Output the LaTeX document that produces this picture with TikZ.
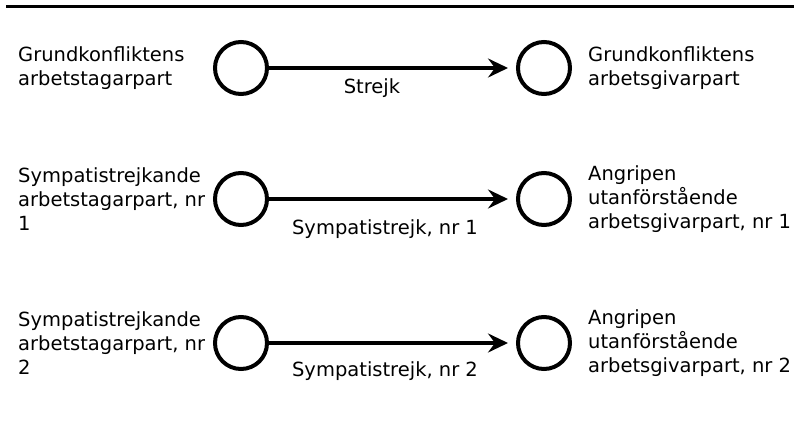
\documentclass[tikz,border=0pt]{standalone}
\usepackage{fontspec}
\setmainfont{DejaVu Sans}
\usetikzlibrary{arrows.meta,positioning}

\begin{document}
\begin{tikzpicture}[x=1pt,y=1pt,>={Stealth[length=20pt,width=19pt,inset=7pt]},
  party/.style={circle,draw=black,line width=4pt,minimum size=52pt,inner sep=0pt},
  partytext/.style={anchor=west,align=left,inner sep=0pt},
  strikelabel/.style={anchor=base,inner sep=0pt},
  every node/.style={font=\fontsize{19.5}{24}\selectfont}]
  \useasboundingbox (0,0) rectangle (798,-425);
  \coordinate (ruleL) at (6,-6.5);
  \coordinate (ruleR) at (794,-6.5);
  \draw[line width=3pt] (ruleL) -- (ruleR);
  % one pair of parties per row, striking side on the left
  \foreach \row/\ypos in {1/-68,2/-199,3/-343}{
    \node[party] (l\row) at (241,\ypos) {};
    \node[party] (r\row) at (544,\ypos) {};
    \draw[->,line width=4pt,shorten >=8pt] (l\row) -- (r\row);
  }
  \node[partytext] (lt1) at (18,-68) {Grundkonfliktens\\arbetstagarpart};
  \node[partytext] (rt1) at (588,-68) {Grundkonfliktens\\arbetsgivarpart};
  \node[partytext] (lt2) at (18,-199) {Sympatistrejkande\\arbetstagarpart, nr\\1};
  \node[partytext] (rt2) at (588,-199) {Angripen\\utanförstående\\arbetsgivarpart, nr 1};
  \node[partytext] (lt3) at (18,-343) {Sympatistrejkande\\arbetstagarpart, nr\\2};
  \node[partytext] (rt3) at (588,-343) {Angripen\\utanförstående\\arbetsgivarpart, nr 2};
  \node[strikelabel] (s1) at (372,-94) {Strejk};
  \node[strikelabel] (s2) at (385,-234) {Sympatistrejk, nr 1};
  \node[strikelabel] (s3) at (385,-376) {Sympatistrejk, nr 2};
\end{tikzpicture}
\end{document}
